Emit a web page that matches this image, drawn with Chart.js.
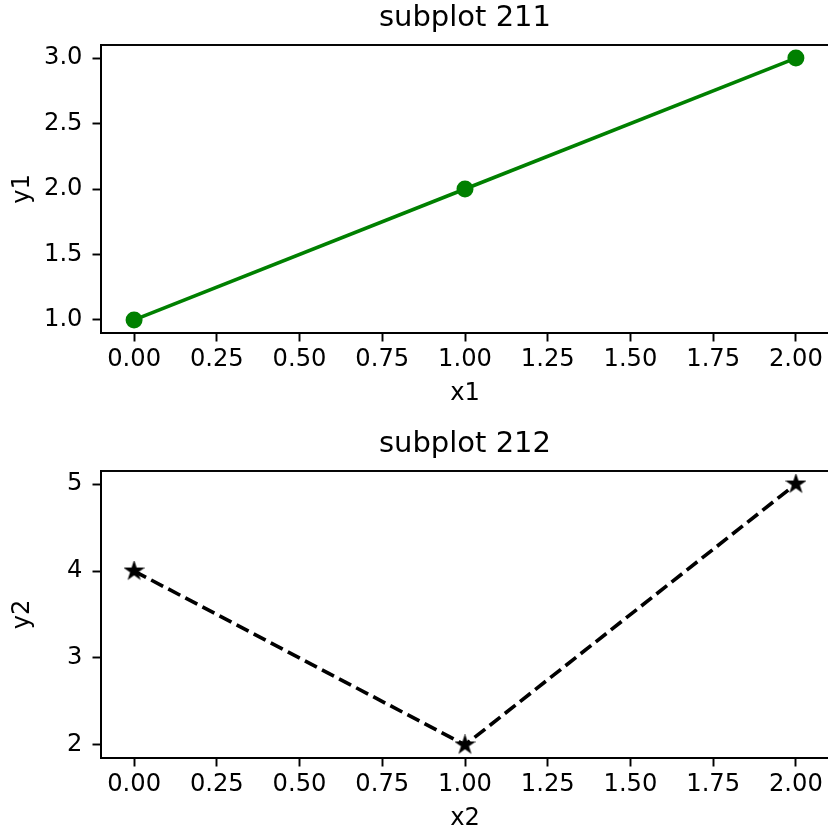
<!DOCTYPE html>
<html>
<head>
<meta charset="utf-8">
<script src="https://cdn.jsdelivr.net/npm/chart.js@4.4.1/dist/chart.umd.min.js"></script>
<style>
  html, body { margin: 0; padding: 0; background: #fff; overflow: hidden; }
  .panel { position: absolute; left: 0; }
</style>
</head>
<body>
<canvas id="chart211" class="panel" width="840" height="416" style="top:0"></canvas>
<canvas id="chart212" class="panel" width="840" height="417" style="top:416px"></canvas>
<script>
// subplot 211
const x1 = [0, 1, 2];
const y1 = [1, 2, 3];
// subplot 212
const x2 = [0, 1, 2];
const y2 = [4, 2, 5];

const xTickValues = [0, 0.25, 0.5, 0.75, 1, 1.25, 1.5, 1.75, 2];
const xTickLabels = ['0.00', '0.25', '0.50', '0.75', '1.00', '1.25', '1.50', '1.75', '2.00'];
const y1TickValues = [1, 1.5, 2, 2.5, 3];
const y1TickLabels = ['1.0', '1.5', '2.0', '2.5', '3.0'];
const y2TickValues = [2, 3, 4, 5];
const y2TickLabels = ['2', '3', '4', '5'];

Chart.defaults.font.family = 'DejaVu Sans';
Chart.defaults.font.size = 24.2;
Chart.defaults.color = '#000';
Chart.defaults.animation = false;

const SPINE = 1.94;

// closed box around the plot area
const boxPlugin = {
  id: 'box',
  afterDraw(chart) {
    const { ctx, chartArea: a } = chart;
    ctx.save();
    ctx.strokeStyle = '#000';
    ctx.lineWidth = SPINE;
    ctx.strokeRect(a.left, a.top, a.right - a.left, a.bottom - a.top);
    ctx.restore();
  }
};

// filled five-point star used as the point style
function starMarker(r, color) {
  const c = document.createElement('canvas');
  const size = Math.ceil(r * 2 + 6);
  c.width = c.height = size;
  const g = c.getContext('2d');
  g.translate(size / 2, size / 2);
  g.beginPath();
  for (let i = 0; i < 10; i++) {
    const rad = i % 2 ? r * 0.382 : r;
    const a = -Math.PI / 2 + i * Math.PI / 5;
    g.lineTo(rad * Math.cos(a), rad * Math.sin(a));
  }
  g.closePath();
  g.fillStyle = color;
  g.fill();
  g.lineJoin = 'miter';
  g.lineWidth = 2.4;
  g.strokeStyle = color;
  g.stroke();
  return c;
}

function axisCommon(tickValues, tickLabels) {
  return {
    afterBuildTicks: s => { s.ticks = tickValues.map(v => ({ value: v })); },
    ticks: {
      callback: (v, i) => tickLabels[i],
      autoSkip: false,
      maxRotation: 0
    },
    grid: {
      drawOnChartArea: false,
      drawTicks: true,
      tickLength: 8.5,
      tickWidth: SPINE,
      tickColor: '#000'
    },
    border: { display: true, color: '#000', width: SPINE }
  };
}

function drawSubplot(id, opts) {
  const ctx = document.getElementById(id).getContext('2d');
  const xAxis = axisCommon(xTickValues, xTickLabels);
  const yAxis = axisCommon(opts.yTickValues, opts.yTickLabels);
  const canvasH = ctx.canvas.height;

  return new Chart(ctx, {
    type: 'line',
    data: {
      datasets: [{
        data: opts.xs.map((x, i) => ({ x: x, y: opts.ys[i] })),
        borderColor: opts.color,
        backgroundColor: opts.color,
        borderWidth: 3.65,
        borderDash: opts.dash || [],
        tension: 0,
        pointStyle: opts.pointStyle,
        pointRadius: opts.pointRadius,
        pointBackgroundColor: opts.color,
        pointBorderColor: opts.color,
        pointBorderWidth: 0,
        fill: false
      }]
    },
    options: {
      responsive: false,
      layout: { padding: { left: 0, right: 11, top: 0, bottom: 0 } },
      plugins: {
        legend: { display: false },
        tooltip: { enabled: false },
        title: {
          display: true,
          fullSize: false,
          text: opts.title,
          color: '#000',
          font: { size: 29, weight: 'normal', family: 'DejaVu Sans' },
          padding: opts.titlePad
        }
      },
      scales: {
        x: Object.assign(xAxis, {
          type: 'linear',
          min: -0.1,
          max: 2.1,
          ticks: Object.assign(xAxis.ticks, { padding: 4 }),
          title: { display: true, text: opts.xLabel, padding: { top: 0, bottom: opts.xLabelPad } },
          afterFit: s => { s.height = canvasH - opts.plotBottom; }
        }),
        y: Object.assign(yAxis, {
          type: 'linear',
          min: opts.yMin,
          max: opts.yMax,
          ticks: Object.assign(yAxis.ticks, { padding: 10 }),
          title: { display: true, text: opts.yLabel, padding: { top: 8, bottom: 0 } },
          afterFit: s => { s.width = 101; }
        })
      }
    },
    plugins: [boxPlugin]
  });
}

drawSubplot('chart211', {
  xs: x1, ys: y1,
  color: 'green',
  pointStyle: 'circle',
  pointRadius: 8.5,
  title: 'subplot 211',
  titlePad: { top: 1, bottom: 9.2 },
  xLabel: 'x1', yLabel: 'y1',
  xLabelPad: 7.5,
  plotBottom: 333,
  yMin: 0.9, yMax: 3.1,
  yTickValues: y1TickValues, yTickLabels: y1TickLabels
});

drawSubplot('chart212', {
  xs: x2, ys: y2,
  color: '#000',
  dash: [13.5, 5.8],
  pointStyle: starMarker(7.3, '#000'),
  pointRadius: 8,
  title: 'subplot 212',
  titlePad: { top: 11, bottom: 9.2 },
  xLabel: 'x2', yLabel: 'y2',
  xLabelPad: 0,
  plotBottom: 342,
  yMin: 1.85, yMax: 5.15,
  yTickValues: y2TickValues, yTickLabels: y2TickLabels
});
</script>
</body>
</html>
